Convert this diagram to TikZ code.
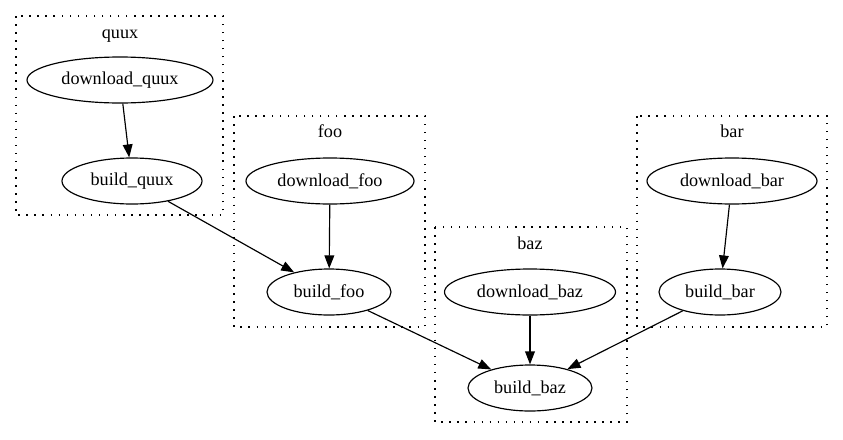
\documentclass[tikz,border=0pt]{standalone}
\usepackage{fontspec}
\setmainfont{Liberation Serif}
\usetikzlibrary{shapes.geometric,arrows.meta}

\begin{document}
\begin{tikzpicture}
  [x=0.77pt,y=-0.77pt,font=\fontsize{14}{17}\selectfont]

  \tikzstyle{job} = [draw,ellipse,line width=0.9pt,inner sep=0pt,minimum height=46*0.77pt]
  \tikzstyle{cluster} = [draw,line width=1pt,dash pattern=on 1.2pt off 5pt]
  \tikzstyle{title} = [anchor=base,inner sep=0pt]

  \useasboundingbox (0,0) rectangle (843,439);

  % clusters
  \draw[cluster] (16,16) rectangle (223,215);
  \draw[cluster] (234,116) rectangle (425,327);
  \draw[cluster] (435,227) rectangle (627,422);
  \draw[cluster] (637,116) rectangle (827,327);

  \node[title] (quux) at (120,38)  {quux};
  \node[title] (foo)  at (330,137) {foo};
  \node[title] (baz)  at (530,249) {baz};
  \node[title] (bar)  at (732,137) {bar};

  % jobs
  \node[job,minimum width=186*0.77pt] (dlquux)  at (120,80)  {download\_quux};
  \node[job,minimum width=140*0.77pt] (bdquux)  at (132,181) {build\_quux};
  \node[job,minimum width=168*0.77pt] (dlfoo)   at (330,181) {download\_foo};
  \node[job,minimum width=124*0.77pt] (bdfoo)   at (329,292) {build\_foo};
  \node[job,minimum width=171*0.77pt] (dlbaz)   at (530,292) {download\_baz};
  \node[job,minimum width=124*0.77pt] (bdbaz)   at (530,388) {build\_baz};
  \node[job,minimum width=170*0.77pt] (dlbar)   at (732,181) {download\_bar};
  \node[job,minimum width=122*0.77pt] (bdbar)   at (720,292) {build\_bar};

  \path[->, >={Triangle[length=10pt,width=7.5pt]}, line width=0.9pt]
        (dlquux) edge (bdquux)
        (bdquux) edge (bdfoo)
        (dlfoo)  edge (bdfoo)
        (bdfoo)  edge (bdbaz)
        (dlbaz)  edge (bdbaz)
        (dlbar)  edge (bdbar)
        (bdbar)  edge (bdbaz);
\end{tikzpicture}
\end{document}
